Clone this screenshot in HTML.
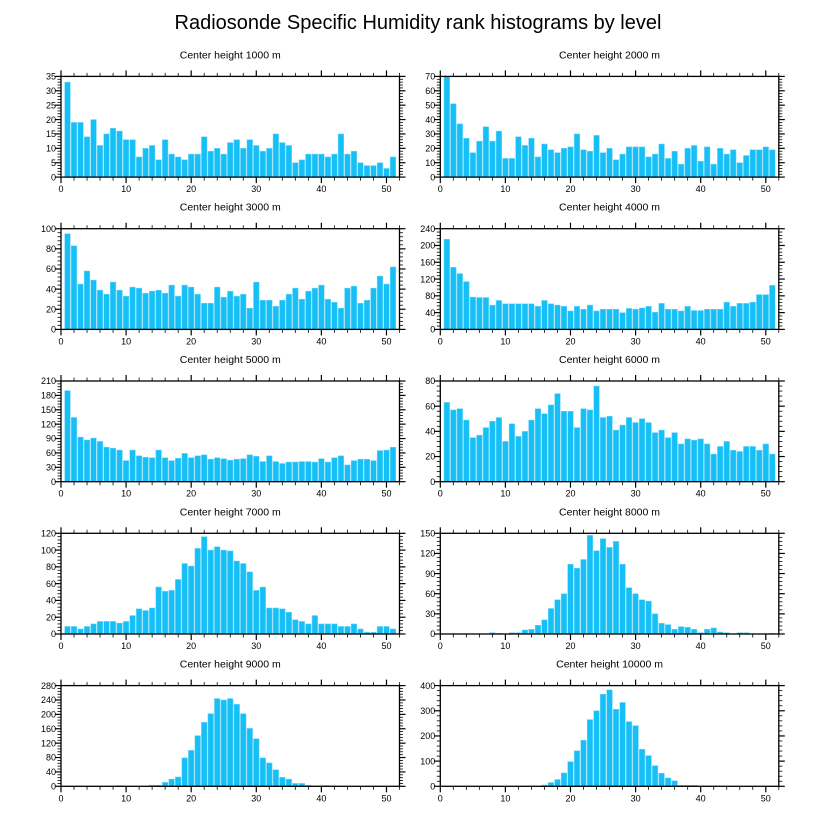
<!DOCTYPE html>
<html><head><meta charset="utf-8"><style>
html,body{margin:0;padding:0;background:#fff;}
svg{display:block;font-family:"Liberation Sans",sans-serif;}
</style></head><body>
<svg id="chart" width="818" height="824" viewBox="0 0 818 824" xmlns="http://www.w3.org/2000/svg">
<rect width="818" height="824" fill="#fff"/>
<text x="418" y="29" text-anchor="middle" font-size="20">Radiosonde Specific Humidity rank histograms by level</text>
</svg>
<script>
const titles = ["Center height 1000 m","Center height 2000 m","Center height 3000 m","Center height 4000 m","Center height 5000 m","Center height 6000 m","Center height 7000 m","Center height 8000 m","Center height 9000 m","Center height 10000 m"];
const yMax = [35,70,100,240,210,80,120,150,280,400];
const yStep = [5,10,20,40,30,20,20,30,40,100];
const xTicks = [0,10,20,30,40,50];
const h1000 = [33,19,19,14,20,11,15,17,16,13,13,7,10,11,6,13,8,7,6,8,8,14,9,10,8,12,13,10,13,11,9,10,15,12,11,5,6,8,8,8,7,8,15,8,9,5,4,4,5,3,7];
const h2000 = [70,51,37,27,17,25,35,25,32,13,13,28,22,27,14,23,19,17,20,21,30,19,18,29,17,20,12,16,21,21,21,14,16,23,13,18,9,20,22,11,21,9,20,16,19,10,15,19,19,21,19];
const h3000 = [95,83,45,58,49,39,35,47,39,33,42,41,36,38,39,36,44,33,44,42,35,26,26,42,32,38,33,35,21,47,29,29,23,29,35,41,30,38,41,44,30,27,21,41,43,26,29,41,53,45,62];
const h4000 = [215,148,133,114,77,76,76,58,69,61,61,61,61,61,55,69,61,58,55,44,55,48,58,44,48,48,48,40,50,48,51,55,41,62,48,48,44,55,45,45,48,48,48,65,55,62,62,65,83,83,105];
const h5000 = [190,134,93,87,91,84,72,70,66,44,66,54,51,50,66,50,44,49,59,50,54,56,47,50,48,45,47,48,56,53,42,54,42,38,41,41,42,42,41,48,41,50,54,35,44,47,47,44,65,66,72];
const h6000 = [63,57,58,49,35,37,43,48,51,32,46,36,40,49,58,54,61,70,56,56,43,58,57,76,51,52,41,45,51,47,50,47,39,41,35,39,30,34,33,34,30,22,28,32,25,24,28,28,25,30,22];
const h7000 = [9,9,6,9,12,15,15,15,13,15,22,30,28,31,56,51,52,65,84,81,102,116,100,104,100,99,87,84,74,52,56,31,31,30,26,17,15,12,22,12,12,12,9,9,12,6,2,2,9,9,6];
const h8000 = [0,0,0,0,0,0,0,2,1,0,2,2,6,7,13,21,38,51,60,104,98,111,147,124,142,129,138,104,69,60,51,49,30,16,14,7,11,10,7,2,7,9,3,2,0,2,2,0,0,0,1];
const h9000 = [0,0,0,0,0,0,0,0,2,0,0,0,0,3,3,11,20,26,79,100,141,178,202,244,240,244,228,202,161,132,79,65,46,25,20,8,8,3,1,2,2,1,0,0,0,0,0,0,0,0,0];
const h10000 = [0,0,0,0,0,0,0,0,0,0,0,0,0,1,1,5,15,27,53,98,141,183,265,300,366,383,306,333,257,241,147,122,82,52,33,22,4,4,4,2,2,2,0,0,0,0,0,0,0,0,0];
const series = [h1000,h2000,h3000,h4000,h5000,h6000,h7000,h8000,h9000,h10000];

const NS = "http://www.w3.org/2000/svg";
const svg = document.getElementById('chart');
function mk(tag, attrs, parent){ const e=document.createElementNS(NS,tag); for(const k in attrs) e.setAttribute(k,attrs[k]); (parent||svg).appendChild(e); return e; }

const PW = 338.5, PH = 100.7, XMAX = 52;
series.forEach((vals, i) => {
  const col = i % 2, row = Math.floor(i / 2);
  const x0 = col === 0 ? 61 : 440.3;
  const top = 76.4 + row * 152.3;
  const bottom = top + PH;
  const xs = v => x0 + v / XMAX * PW;
  const ys = v => bottom - v / yMax[i] * PH;
  const g = mk('g', {});
  
  
  const t = mk('text', {x: x0 + PW / 2, y: top - 18, 'text-anchor': 'middle', 'font-size': '10.5'}, g);
  t.textContent = titles[i];
  
  
  vals.forEach((v, j) => {
    const bw = 0.86 * PW / XMAX;
    const r = mk('rect', {x: xs(j + 1) - bw / 2, y: ys(v), width: bw, height: bottom - ys(v), fill: '#17bff7', stroke: '#6fd6fb', 'stroke-width': '0.5'}, g);
    
    
  });
  const f = mk('rect', {x: x0, y: top, width: PW, height: PH, fill: 'none', stroke: '#000', 'stroke-width': '1.3'}, g);
  
  
  // x ticks
  for (let v = 0; v <= XMAX; v += 2) {
    const maj = v % 10 === 0, L = maj ? 6 : 3.5, x = xs(v);
    mk('line', {x1: x, x2: x, y1: top, y2: top - L, stroke: '#000', 'stroke-width': maj ? 1.2 : 0.8}, g);
    mk('line', {x1: x, x2: x, y1: bottom, y2: bottom + L, stroke: '#000', 'stroke-width': maj ? 1.2 : 0.8}, g);
  }
  xTicks.forEach(v => {
    const tl = mk('text', {x: xs(v), y: bottom + 15, 'text-anchor': 'middle', 'font-size': '9'}, g);
    tl.textContent = v;
    
    
  });
  // y ticks
  const minor = yStep[i] / 5;
  for (let k = 0; k * minor <= yMax[i] + 1e-9; k++) {
    const v = k * minor, maj = k % 5 === 0, L = maj ? 6 : 3.5, y = ys(v);
    mk('line', {x1: x0, x2: x0 - L, y1: y, y2: y, stroke: '#000', 'stroke-width': maj ? 1.2 : 0.8}, g);
    mk('line', {x1: x0 + PW, x2: x0 + PW + L, y1: y, y2: y, stroke: '#000', 'stroke-width': maj ? 1.2 : 0.8}, g);
  }
  for (let v = 0; v <= yMax[i]; v += yStep[i]) {
    const yl = mk('text', {x: x0 - 5, y: ys(v) + 3.2, 'text-anchor': 'end', 'font-size': '9'}, g);
    yl.textContent = v;
    
    
  }
});
</script>
</body></html>
